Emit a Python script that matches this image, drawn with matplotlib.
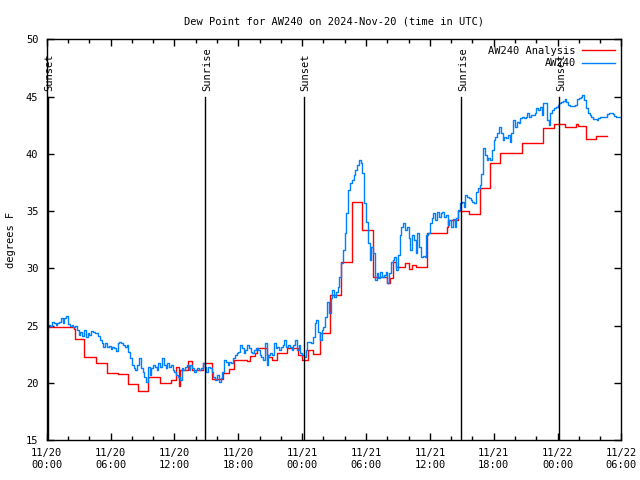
import numpy as np
import matplotlib
matplotlib.use("Agg")
import matplotlib.pyplot as plt

# AW240 observations, every 10 minutes from 11/20 00:00 UTC (deg F)
aw240 = [
    24.76, 25.10, 24.96, 25.34, 25.25, 25.08, 25.19, 25.34, 25.63, 25.19,
    25.63, 25.83, 25.13, 24.96, 25.05, 24.90, 24.96, 24.61, 24.17, 24.46,
    24.09, 24.61, 23.97, 24.32, 24.17, 24.55, 24.46, 24.38, 24.32, 24.09,
    23.75, 23.50, 23.15, 23.45, 23.10, 23.21, 22.92, 23.15, 23.01, 22.81,
    23.45, 23.59, 23.50, 23.30, 23.10, 23.30, 22.72, 22.14, 21.55, 21.26,
    21.12, 21.55, 22.14, 21.26, 20.97, 20.53, 20.10, 21.41, 20.68, 21.26,
    21.55, 21.41, 21.12, 21.70, 21.41, 22.14, 21.55, 21.26, 21.70, 21.41,
    21.55, 21.12, 20.97, 20.68, 20.53, 20.24, 21.26, 21.12, 21.41, 21.55,
    21.12, 21.55, 21.26, 20.97, 21.12, 21.26, 21.12, 21.26, 21.70, 21.41,
    20.97, 21.41, 21.26, 20.97, 20.48, 20.24, 20.68, 20.10, 20.39, 20.97,
    21.99, 21.84, 21.55, 21.84, 21.70, 22.14, 22.43, 22.57, 22.72, 23.30,
    23.01, 22.57, 22.86, 23.30, 23.01, 22.72, 22.57, 22.86, 23.01, 22.86,
    22.43, 22.28, 21.99, 23.45, 21.55, 22.43, 22.57, 22.43, 23.45, 23.01,
    23.15, 22.86, 23.15, 23.30, 23.74, 23.15, 23.30, 23.15, 22.86, 23.30,
    23.74, 22.86, 23.30, 22.57, 22.43, 22.28,
    22.86, 23.59, 23.59, 23.45, 24.03, 25.19, 25.48, 24.46, 23.74, 24.61,
    24.90, 25.78, 27.08, 26.07, 27.38, 28.10, 27.52, 27.96, 28.39, 29.27,
    30.43, 31.60, 33.05, 34.80, 36.84, 37.42, 37.71, 38.15, 38.58, 39.02,
    39.46, 39.17, 38.29, 35.67, 34.07, 32.18, 30.72, 31.89, 31.31, 28.98,
    29.56, 29.12, 29.70, 29.27, 29.41, 29.70, 28.69, 29.56, 30.58, 30.72,
    31.00, 29.85, 31.16, 32.91, 33.63, 33.93, 33.34, 33.63, 32.62, 31.60,
    32.91, 32.47, 31.31, 33.05, 31.89, 31.01, 31.07, 31.01, 32.91, 33.05,
    33.93, 34.36, 34.80, 34.22, 34.94, 34.51, 34.80, 34.94, 34.51, 34.65,
    33.78, 34.22, 33.63, 34.28, 33.63, 34.36, 35.09, 35.67, 35.82, 35.38,
    36.40, 36.25, 36.11, 35.96, 35.82, 35.67, 36.69, 36.98, 37.27, 38.20,
    40.48, 39.90, 39.46, 39.60, 39.46, 40.33, 41.20, 41.49, 41.79, 42.37,
    41.79, 41.20, 41.49, 41.35, 41.64, 41.06, 41.79, 42.95, 42.37, 42.80,
    42.66, 43.10, 43.18, 43.10, 43.24, 43.53, 43.24, 43.39, 43.39, 43.53,
    43.97, 43.82, 44.11, 43.39, 44.41, 44.46, 42.95, 42.51, 43.53, 43.82,
    43.97, 44.11, 44.26, 44.41, 44.55, 44.64, 44.76, 44.55, 44.26, 44.17,
    44.17, 44.17, 44.26, 44.76, 44.84, 44.99, 45.13, 44.70, 43.97, 43.53,
    43.39, 43.24, 43.01, 43.01, 42.95, 43.10, 43.18, 43.24, 43.18, 43.24,
    43.47, 43.53, 43.53, 43.47, 43.30, 43.24, 43.18, 43.18,
]
aw240_hours = np.arange(len(aw240)) / 6.0

# AW240 Analysis (step changes), hours since 11/20 00:00 UTC
analysis_hours = [
    0.0, 2.6, 2.7, 3.53, 4.63, 5.64, 6.73, 7.64, 8.61, 9.55, 10.65, 11.68,
    12.15, 12.39, 12.53, 13.25, 13.63, 14.69, 15.56, 16.6, 17.13, 17.6,
    18.8, 19.11, 19.58, 19.8, 20.68, 20.83, 21.15, 21.68, 22.55, 23.65,
    23.96, 24.59, 25.06, 25.69, 26.63, 27.63, 28.67, 29.6, 30.7, 31.98,
    32.27, 32.55, 32.82, 33.67, 34.05, 34.33, 34.68, 35.71, 37.59, 37.69,
    38.63, 39.69, 40.72, 41.66, 42.6, 44.64, 46.62, 47.71, 48.71, 49.75,
    49.96, 50.66, 51.6, 52.63,
]
analysis = [
    24.87, 24.67, 23.80, 22.23, 21.70, 20.90, 20.74, 19.87, 19.26, 20.48,
    19.96, 20.22, 21.40, 19.75, 21.12, 21.93, 21.12, 21.70, 20.30, 20.88,
    21.20, 22.04, 21.93, 22.34, 22.63, 23.06, 22.42, 22.22, 21.99, 22.57,
    23.06, 22.42, 22.04, 22.90, 22.50, 24.38, 27.67, 30.52, 35.82, 33.34,
    29.21, 28.69, 29.15, 30.58, 30.14, 30.44, 29.91, 30.29, 30.09, 33.11,
    33.63, 34.22, 35.03, 34.74, 36.99, 39.17, 40.10, 40.97, 42.23, 42.58,
    42.34, 42.63, 42.45, 41.27, 41.55, 41.55,
]

# sunrise / sunset markers (hours since 11/20 00:00 UTC)
sun_hours = [0.12, 14.9, 24.18, 38.95, 48.15]
sun_labels = ["Sunset", "Sunrise", "Sunset", "Sunrise", "Sunset"]

tick_hours = [0, 6, 12, 18, 24, 30, 36, 42, 48, 54]
tick_labels = ["11/20\n00:00", "11/20\n06:00", "11/20\n12:00", "11/20\n18:00",
               "11/21\n00:00", "11/21\n06:00", "11/21\n12:00", "11/21\n18:00",
               "11/22\n00:00", "11/22\n06:00"]

plt.rcParams['font.family'] = 'DejaVu Sans Mono'
plt.rcParams['font.size'] = 7.5

fig = plt.figure(figsize=(6.4, 4.8), dpi=100)
ax = fig.add_axes([0.073, 0.083, 0.898, 0.835])

ax.plot(analysis_hours, analysis, drawstyle='steps-post', color='#ff0000',
        lw=1.0, label='AW240 Analysis')
ax.plot(aw240_hours, aw240, drawstyle='steps-post', color='#0080ff',
        lw=1.0, label='AW240')

for h, lab in zip(sun_hours, sun_labels):
    ax.plot([h, h], [15, 45], color='black', lw=1.0)
    ax.text(h + 0.15, 45.5, lab, rotation=90, ha='center', va='bottom')

ax.set_xlim(0, 54)
ax.set_ylim(15, 50)
ax.set_xticks(tick_hours)
ax.set_xticklabels(tick_labels)
ax.set_xticks(np.arange(0, 55, 2), minor=True)
ax.set_yticks(np.arange(15, 51, 5))
ax.tick_params(which='both', direction='in', top=True, right=True, width=1)
ax.tick_params(which='major', length=5, pad=6)
ax.tick_params(which='minor', length=3)
for s in ax.spines.values():
    s.set_linewidth(1.0)

ax.set_title('Dew Point for AW240 on 2024-Nov-20 (time in UTC)', fontsize=7.5, pad=11)
ax.set_ylabel('degrees F', labelpad=7)

ax.legend(loc='upper right', frameon=False, markerfirst=False, handlelength=3.2,
          borderaxespad=0.2, labelspacing=0.25, handletextpad=0.6)

fig.savefig('out.png', dpi=100)
